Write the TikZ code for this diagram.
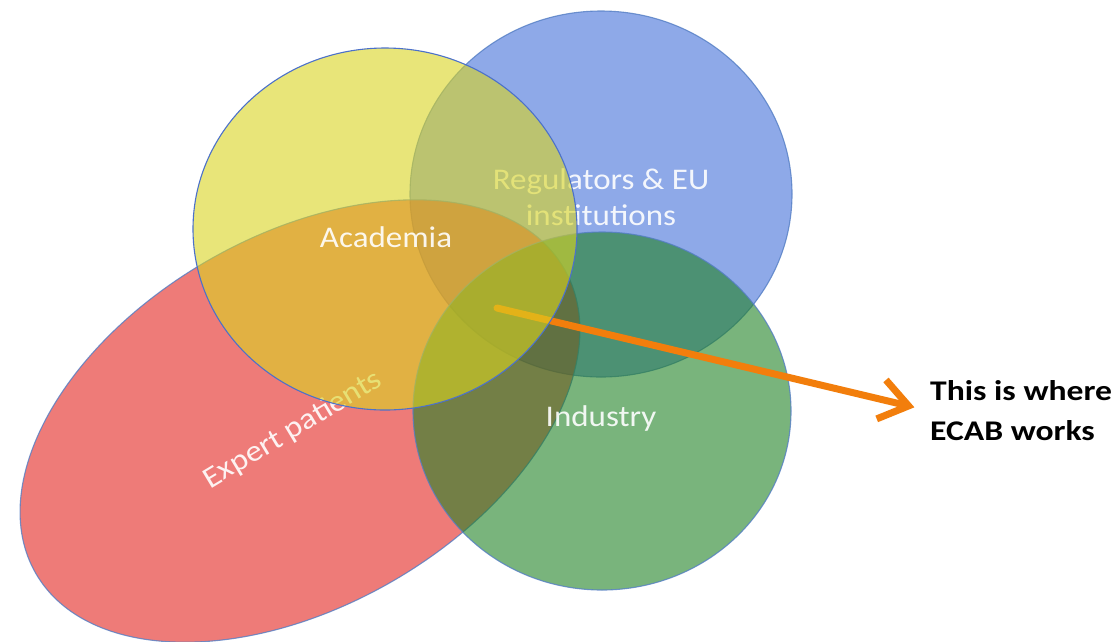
\documentclass[tikz,border=0pt]{standalone}
\usepackage{fontspec}
\setmainfont{Carlito}
\newfontfamily\lblfont[FakeStretch=1.1]{Carlito}
\newfontfamily\notefont[FakeStretch=1.18]{Carlito}
\usetikzlibrary{arrows.meta,shapes.geometric}
\definecolor{cred}{RGB}{227,35,30}
\definecolor{cblue}{RGB}{68,113,217}
\definecolor{cgreen}{RGB}{33,130,37}
\definecolor{cyellow}{RGB}{217,213,33}
\definecolor{cborder}{RGB}{84,126,196}
\definecolor{corange}{RGB}{242,126,12}
\begin{document}
\begin{tikzpicture}[x=1pt,y=-1pt,
  blob/.style={ellipse, draw=cborder, line width=1.1pt, fill opacity=0.6, draw opacity=0.8, inner sep=0pt},
  lbl/.style={text=white, text opacity=0.9, font=\lblfont\fontsize{30}{36}\selectfont, align=center, inner sep=0pt},
  note/.style={text=black, font=\notefont\bfseries\fontsize{28.5}{40}\selectfont, align=left, inner sep=0pt}]
\useasboundingbox (0,0) rectangle (1116,641);
\fill[white] (0,0) rectangle (1116,641);
% Regulators
\node[blob, fill=cblue, minimum width=382pt, minimum height=366pt] (blue) at (601,194) {};
\node[lbl] (lblue) at (601,197) {Regulators \& EU\\institutions};
% Expert patients
\node[blob, fill=cred, minimum width=610pt, minimum height=370pt, rotate=30] (red) at (300,421) {};
\node[lbl, rotate=31] (lred) at (293,430) {Expert patients};
% Industry
\node[blob, fill=cgreen, minimum width=378pt, minimum height=358pt] (green) at (602,411) {};
\node[lbl] (lgreen) at (601,418) {Industry};
% Arrow
\coordinate (s) at (497,308);
\node[note, anchor=west] (txt) at (930,411) {This is where\\ECAB works};
\draw[corange, line width=7pt, line cap=round, line join=round, shorten >=16pt,
  -{Straight Barb[length=28pt, width=40pt, line width=7pt]}] (s) -- (txt.west);
% Academia
\node[blob, fill=cyellow, draw=cborder!90!blue, draw opacity=1, minimum width=384pt, minimum height=362pt] (yellow) at (385,229) {};
\node[lbl] (lyellow) at (386,237) {Academia};
\end{tikzpicture}
\end{document}
